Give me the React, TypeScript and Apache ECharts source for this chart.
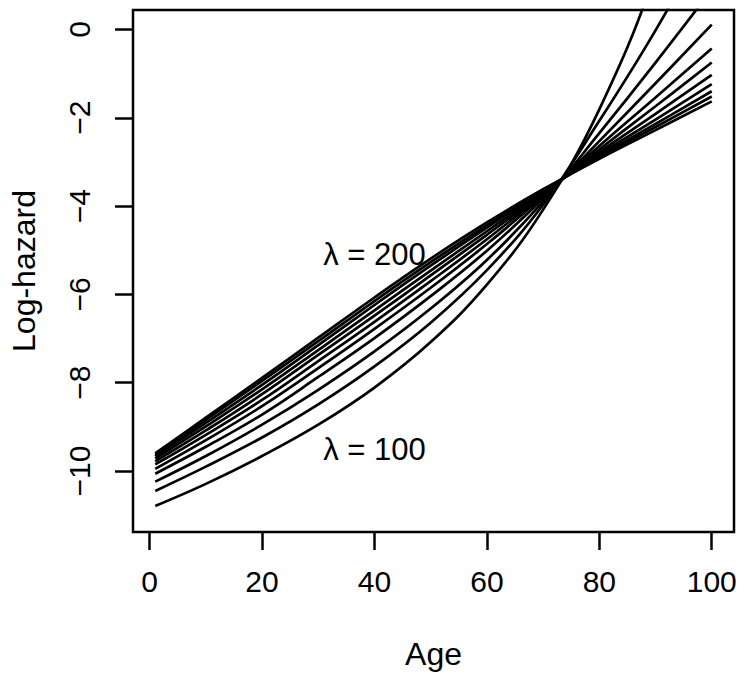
import React, { useEffect, useRef } from "react";
import * as echarts from "echarts";

const ages = [1, 10, 20, 30, 40, 50, 60, 70, 80, 90, 100];
const lambdas = [100, 110, 120, 130, 140, 150, 160, 170, 180, 190, 200];

// Log-hazard read per curve (lambda = 100 ... 200)
const lam100 = [-10.79, -10.29, -9.66, -8.95, -8.11, -7.08, -5.78, -4.08, -1.81, 1.29, 5.59];
const lam110 = [-10.45, -9.9, -9.24, -8.49, -7.63, -6.64, -5.45, -3.97, -2.07, -0.02, 2.25];
const lam120 = [-10.24, -9.66, -8.95, -8.16, -7.29, -6.32, -5.22, -3.9, -2.35, -0.75, 0.9];
const lam130 = [-10.06, -9.45, -8.72, -7.87, -6.99, -6.04, -5.01, -3.83, -2.53, -1.22, 0.11];
const lam140 = [-9.95, -9.3, -8.53, -7.67, -6.78, -5.85, -4.86, -3.78, -2.64, -1.54, -0.43];
const lam150 = [-9.85, -9.18, -8.39, -7.51, -6.62, -5.7, -4.75, -3.74, -2.72, -1.74, -0.75];
const lam160 = [-9.78, -9.08, -8.26, -7.37, -6.48, -5.57, -4.65, -3.71, -2.78, -1.91, -1.03];
const lam170 = [-9.72, -8.99, -8.15, -7.26, -6.36, -5.46, -4.57, -3.68, -2.83, -2.04, -1.24];
const lam180 = [-9.67, -8.91, -8.05, -7.15, -6.24, -5.35, -4.49, -3.66, -2.87, -2.14, -1.4];
const lam190 = [-9.64, -8.84, -7.96, -7.06, -6.15, -5.27, -4.43, -3.64, -2.9, -2.21, -1.52];
const lam200 = [-9.6, -8.79, -7.89, -6.98, -6.07, -5.19, -4.37, -3.62, -2.93, -2.28, -1.63];

const curves = [lam100, lam110, lam120, lam130, lam140, lam150, lam160, lam170, lam180, lam190, lam200];

const xTicks = [0, 20, 40, 60, 80, 100];
const yTicks = [-10, -8, -6, -4, -2, 0];

const annotations: [number, number, string][] = [
  [40, -5.1, "\u03bb = 200"],
  [40, -9.52, "\u03bb = 100"],
];

const minus = (v: number) => String(v).replace("-", "\u2212");

export default function App() {
  const ref = useRef<HTMLDivElement>(null);
  useEffect(() => {
    if (!ref.current) return;
    const chart = echarts.init(ref.current, null, { renderer: "svg" });
    const font = "Liberation Sans, Arial, sans-serif";
    const tickStyle = { color: "#000", width: 2.5 };
    const series: any[] = curves.map((c, i) => ({
      type: "line",
      name: "lambda " + lambdas[i],
      data: ages.map((a, j) => [a, c[j]]),
      smooth: 0.4,
      showSymbol: false,
      clip: true,
      silent: true,
      lineStyle: { color: "#000", width: 2.7 },
    }));
    series.push({
      type: "scatter",
      data: annotations.map((a) => [a[0], a[1], a[2]]),
      symbolSize: 0,
      silent: true,
      itemStyle: { color: "#000", opacity: 1 },
      label: {
        show: true,
        position: "inside",
        formatter: (p: any) => p.data[2],
        fontSize: 31,
        color: "#000",
        opacity: 1,
        textBorderWidth: 0,
        fontFamily: font,
      },
    });
    chart.setOption({
      animation: false,
      backgroundColor: "#fff",
      textStyle: { fontFamily: font },
      grid: {
        left: 129,
        top: 10,
        width: 605,
        height: 522,
        show: true,
        borderColor: "#000",
        borderWidth: 2.5,
        backgroundColor: "transparent",
      },
      xAxis: {
        type: "value",
        min: -2.96,
        max: 103.96,
        axisLine: { show: false, onZero: false },
        splitLine: { show: false },
        axisTick: { show: true, customValues: xTicks, length: 18, lineStyle: tickStyle },
        axisLabel: { customValues: xTicks, fontSize: 30, color: "#000", margin: 34, fontFamily: font },
        name: "Age",
        nameLocation: "middle",
        nameGap: 106,
        nameTextStyle: { fontSize: 32, color: "#000", fontFamily: font },
      },
      yAxis: {
        type: "value",
        min: -11.38,
        max: 0.44,
        axisLine: { show: false, onZero: false },
        splitLine: { show: false },
        axisTick: { show: true, customValues: yTicks, length: 18, lineStyle: tickStyle },
        axisLabel: {
          customValues: yTicks,
          rotate: 90,
          fontSize: 30,
          color: "#000",
          margin: 39,
          fontFamily: font,
          formatter: (v: number) => minus(v),
        },
        name: "Log-hazard",
        nameLocation: "middle",
        nameRotate: 90,
        nameGap: 93,
        nameTextStyle: { fontSize: 32, color: "#000", fontFamily: font },
      },
      series,
    });
    return () => chart.dispose();
  }, []);
  return (
    <div
      ref={ref}
      style={{ position: "fixed", left: 0, top: 0, width: 748, height: 681, background: "#fff" }}
    />
  );
}
